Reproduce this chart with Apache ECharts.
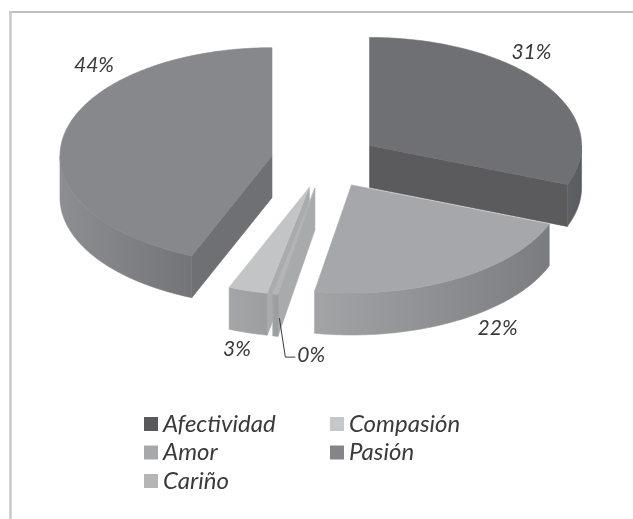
<!DOCTYPE html>
<html>
<head>
<meta charset="utf-8">
<script src="https://cdn.jsdelivr.net/npm/echarts@6/dist/echarts.min.js"></script>
<style>
  html, body { margin: 0; padding: 0; background: #ffffff; }
  #chart { width: 633px; height: 519px; }
</style>
</head>
<body>
<div id="chart"></div>
<script>
// ---------- data ----------
const categories = ['Afectividad', 'Amor', 'Cariño', 'Compasión', 'Pasión'];
const values = [31, 22, 0.4, 3, 44];
const legendColumn1 = ['Afectividad', 'Amor', 'Cariño'];
const legendColumn2 = ['Compasión', 'Pasión'];

// ---------- styles (kept separate from data) ----------
const legendColors = ['#59595b', '#a7a8aa', '#b4b5b7', '#c6c7c9', '#848588'];
const topColors    = ['#6f7074', '#a6a7aa', '#b4b5b7', '#c3c4c6', '#87888b'];
const wallLeft     = ['#606164', '#a3a4a6', '#a2a3a5', '#a4a5a7', '#8d8e91'];
const wallRight    = ['#5a5b5e', '#7b7c7f', '#9a9b9d', '#9d9ea0', '#737478'];
const radialColors = ['#5b5b5e', '#8a8b8e', '#a9aaac', '#aaabad', '#6f7073'];
const labelNudge   = [[-13, -32], [42, 49], [22, 61], [-11, 59], [30, -70]];

const G = { cx: 325, cy: 161, rx: 212, ry: 108, h: 42, explode: 54 };
const labelFont = { fontSize: 21, fontFamily: 'Lato', fontStyle: 'italic', color: '#3a3a3a' };

const total = values.reduce((a, b) => a + b, 0);
const startOf = values.map((v, i) => values.slice(0, i).reduce((a, b) => a + b, 0));
const midAngle = values.map((v, i) => (startOf[i] + v / 2) / total * Math.PI * 2);
// back-to-front drawing order
const depthRank = (() => {
  const idx = values.map((v, i) => i);
  idx.sort((a, b) => (-Math.cos(midAngle[a])) - (-Math.cos(midAngle[b])));
  const r = [];
  idx.forEach((d, k) => { r[d] = k; });
  return r;
})();

function renderItem(params, api) {
  const i = params.dataIndex;
  const v = api.value(0);
  const a0 = startOf[i] / total * Math.PI * 2;
  const a1 = (startOf[i] + v) / total * Math.PI * 2;
  const mid = (a0 + a1) / 2;
  const k = G.ry / G.rx;
  const ax = G.cx + G.explode * Math.sin(mid);
  const ay = G.cy - G.explode * k * Math.cos(mid);
  const P = (t, dy) => [ax + G.rx * Math.sin(t), ay - G.ry * Math.cos(t) + (dy || 0)];
  const arc = (t0, t1, dy) => {
    const pts = [];
    const n = Math.max(2, Math.ceil((t1 - t0) / (Math.PI / 180)));
    for (let s = 0; s <= n; s++) pts.push(P(t0 + (t1 - t0) * s / n, dy));
    return pts;
  };
  const base = depthRank[i] * 10;
  const children = [];
  const quad = (t, z) => {
    const e = P(t);
    children.push({
      type: 'polygon', z2: base + z,
      shape: { points: [[ax, ay], e, [e[0], e[1] + G.h], [ax, ay + G.h]] },
      style: { fill: radialColors[i], stroke: radialColors[i], lineWidth: 0.6 }
    });
  };
  if (Math.sin(a0) < -1e-6) quad(a0, 1);
  if (Math.sin(a1) > 1e-6) quad(a1, 1);
  const lo = Math.max(a0, Math.PI / 2), hi = Math.min(a1, Math.PI * 1.5);
  if (hi > lo) {
    const topArc = arc(lo, hi, 0);
    const botArc = arc(lo, hi, G.h).reverse();
    const grad = new echarts.graphic.LinearGradient(0, 0, 1, 0, [
      { offset: 0, color: wallLeft[i] }, { offset: 1, color: wallRight[i] }
    ]);
    children.push({
      type: 'polygon', z2: base + 2,
      shape: { points: topArc.concat(botArc) },
      style: { fill: grad, stroke: grad, lineWidth: 0.6 }
    });
  }
  children.push({
    type: 'polygon', z2: base + 3,
    shape: { points: [[ax, ay]].concat(arc(a0, a1, 0)) },
    style: { fill: topColors[i], stroke: topColors[i], lineWidth: 0.6 }
  });
  // label
  const o = P(mid);
  const pct = Math.round(v / total * 100) + '%';
  const nd = labelNudge[i];
  const tiny = v / total < 0.01;
  if (tiny) {
    children.push({
      type: 'polyline', z2: 200,
      shape: { points: [[o[0] + 4, o[1] + 24], [o[0] + 10, o[1] + 63], [o[0] + 20, o[1] + 63]] },
      style: { stroke: '#3a3a3a', lineWidth: 1, fill: null }
    });
  }
  children.push({
    type: 'text', z2: 201,
    style: {
      text: pct,
      x: o[0] + nd[0],
      y: o[1] + nd[1],
      fill: labelFont.color,
      fontSize: labelFont.fontSize,
      fontFamily: labelFont.fontFamily,
      fontStyle: labelFont.fontStyle,
      align: tiny ? 'left' : 'center',
      verticalAlign: 'middle'
    }
  });
  return { type: 'group', children: children };
}

const chart = echarts.init(document.getElementById('chart'), null, { renderer: 'canvas' });
const legendCommon = {
  orient: 'vertical',
  top: 407,
  itemWidth: 14, itemHeight: 14, itemGap: 4.5,
  icon: 'rect',
  selectedMode: false,
  textStyle: { fontSize: 24, lineHeight: 24, fontFamily: 'Lato', fontStyle: 'italic', color: '#3a3a3a' }
};
chart.setOption({
  animation: false,
  backgroundColor: '#ffffff',
  graphic: [
    { type: 'line', shape: { x1: 9, y1: 12, x2: 633, y2: 12 }, style: { stroke: '#bfbfc2', lineWidth: 2 } },
    { type: 'line', shape: { x1: 10.5, y1: 11, x2: 10.5, y2: 519 }, style: { stroke: '#c8c8c8', lineWidth: 2.5 } }
  ],
  legend: [
    Object.assign({ left: 139, data: legendColumn1 }, legendCommon),
    Object.assign({ left: 325, data: legendColumn2 }, legendCommon)
  ],
  series: [
    {
      type: 'pie', name: 'legend', radius: 0, center: [-50, -50], silent: true,
      label: { show: false }, labelLine: { show: false },
      data: categories.map((c, i) => ({ name: c, value: values[i], itemStyle: { color: legendColors[i] } }))
    },
    {
      type: 'custom', name: 'pie3d', coordinateSystem: 'none', silent: true,
      renderItem: renderItem,
      data: values.map(v => [v])
    }
  ]
});
</script>
</body>
</html>
